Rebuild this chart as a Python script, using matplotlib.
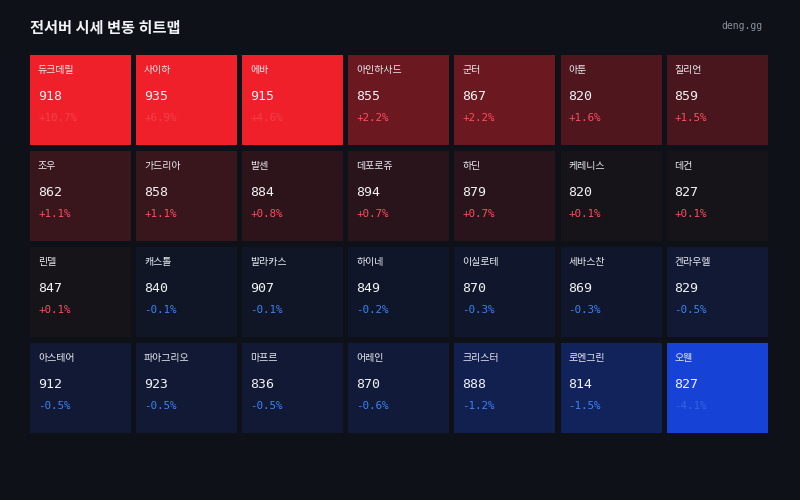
import numpy as np
import matplotlib
matplotlib.use('Agg')
import matplotlib.pyplot as plt
from matplotlib.patches import Rectangle

plt.rcParams['font.family'] = ['Noto Sans CJK KR', 'DejaVu Sans']

# ---- data ----
names = ['듀크데릴', '사이하', '에바', '아인하사드', '군터', '아툰', '질리언',
         '조우', '가드리아', '발센', '데포로쥬', '하딘', '케레니스', '데컨',
         '린델', '캐스톨', '발라카스', '하이네', '이실로테', '세바스찬', '켄라우헬',
         '아스테어', '파아그리오', '마프르', '어레인', '크리스터', '로엔그린', '오웬']
prices = [918, 935, 915, 855, 867, 820, 859,
          862, 858, 884, 894, 879, 820, 827,
          847, 840, 907, 849, 870, 869, 829,
          912, 923, 836, 870, 888, 814, 827]
changes = [10.7, 6.9, 4.6, 2.2, 2.2, 1.6, 1.5,
           1.1, 1.1, 0.8, 0.7, 0.7, 0.1, 0.1,
           0.1, -0.1, -0.1, -0.2, -0.3, -0.3, -0.5,
           -0.5, -0.5, -0.5, -0.6, -1.2, -1.5, -4.1]

ncols = 7
x0, y0 = 30, 55
cw, ch = 101, 90
px, py = 106.1, 96

base = np.array([0x14, 0x13, 0x19]) / 255
red = np.array([0xf0, 0x20, 0x2a]) / 255
blue = np.array([0x17, 0x42, 0xd6]) / 255


def cell_color(p):
    if p >= 0:
        t = min(p / 4.6, 1) ** 1.25
        return base * (1 - t) + red * t
    t = min(-p / 4.1, 1) ** 1.15
    b0 = np.array([0x10, 0x15, 0x24]) / 255
    return b0 * (1 - t) + blue * t


fig = plt.figure(figsize=(8, 5), dpi=100)
fig.patch.set_facecolor('#0e1118')
ax = fig.add_axes([0, 0, 1, 1])
ax.set_xlim(0, 800)
ax.set_ylim(500, 0)
ax.axis('off')

ax.text(30, 28, '전서버 시세 변동 히트맵', color='#f0f2f5', fontsize=11,
        fontweight='bold', va='center')
ax.text(762, 26, 'deng.gg', color='#8a909c', fontsize=7, ha='right', va='center',
        family='DejaVu Sans Mono')

for i, (n, v, p) in enumerate(zip(names, prices, changes)):
    r, c = divmod(i, ncols)
    x = x0 + c * px
    y = y0 + r * py
    ax.add_patch(Rectangle((x, y), cw, ch, color=cell_color(p), lw=0))
    ax.text(x + 8, y + 15, n, color='#e8eaee', fontsize=7.2, va='center')
    ax.text(x + 8, y + 41, str(v), color='#f2f3f5', fontsize=9.5,
            va='center', family='DejaVu Sans Mono')
    if abs(p) >= 4:
        pc = '#f05a66' if p > 0 else '#4f7fe8'
        alpha = 0.55
    else:
        pc = '#ff4d5e' if p > 0 else '#3b82f6'
        alpha = 1
    ax.text(x + 8, y + 63, f'{p:+.1f}%', color=pc, alpha=alpha, fontsize=7.8,
            va='center', family='DejaVu Sans Mono')

fig.savefig('out.png', dpi=100, facecolor=fig.get_facecolor())
